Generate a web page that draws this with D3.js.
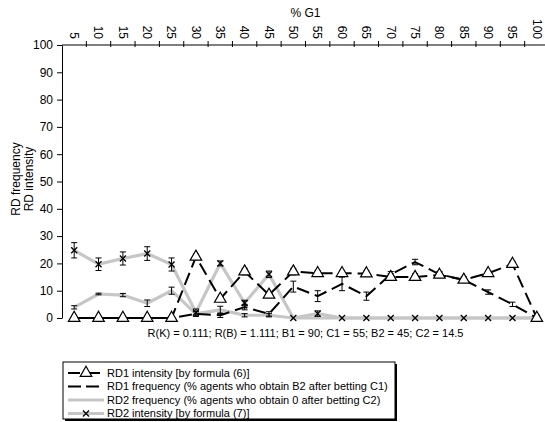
<!DOCTYPE html>
<html>
<head>
<meta charset="utf-8">
<script src="https://cdn.jsdelivr.net/npm/d3@7"></script>
<style>
  html, body { margin: 0; padding: 0; background: #fff; }
  svg { display: block; font-family: "Liberation Sans", Arial, Helvetica, sans-serif; }
</style>
</head>
<body>
<svg id="chart" width="545" height="422"></svg>
<script>
// Share of G1 agents (%)
const categories = [5, 10, 15, 20, 25, 30, 35, 40, 45, 50, 55, 60, 65, 70, 75, 80, 85, 90, 95, 100];
const yTicks = [0, 10, 20, 30, 40, 50, 60, 70, 80, 90, 100];

// RD1 intensity [by formula (6)] and its error half-widths
const rd1Intensity    = [0, 0, 0, 0, 0, 22.4, 7, 17, 8.5, 17, 16.4, 16.4, 16.3, 15, 15, 15.8, 14, 16.4, 19.8, 0];
const rd1IntensityErr = [0, 0, 0, 0, 0, 1, 0.8, 1.2, 1, 1.2, 1, 1, 1, 1.2, 1.2, 1, 1, 1, 1, 0];

// RD1 frequency (% agents who obtain B2 after betting C1)
const rd1Frequency    = [0, 0, 0, 0, 0, 1.5, 1, 4, 1.5, 11.5, 8, 12.5, 8, 16, 20.5, 16, 14, 9.5, 5, 0];
const rd1FrequencyErr = [0, 0, 0, 0, 0, 0.8, 0.8, 1, 0.8, 2, 2, 2.5, 1.5, 1, 1, 1, 1, 0.8, 0.8, 0];

// RD2 frequency (% agents who obtain 0 after betting C2)
const rd2Frequency    = [3.9, 8.8, 8.4, 5.4, 10, 1.5, 3, 1, 1, 0, 0, 0, 0, 0, 0, 0, 0, 0, 0, 0];
const rd2FrequencyErr = [0.6, 0.3, 0.6, 1.2, 1.3, 0.8, 1.3, 0.6, 0.6, 0, 0, 0, 0, 0, 0, 0, 0, 0, 0, 0];

// RD2 intensity [by formula (7)]
const rd2Intensity    = [24.8, 19.7, 21.8, 23.6, 19.6, 2, 20, 5.5, 16, 0, 1.6, 0, 0, 0, 0, 0, 0, 0, 0, 0];
const rd2IntensityErr = [2.8, 2.3, 2.4, 2.5, 2.4, 1.3, 0.9, 1, 1.2, 0, 1, 0, 0, 0, 0, 0, 0, 0, 0, 0];

const paramsText = "R(K) = 0.111; R(B) = 1.111; B1 = 90; C1 = 55; B2 = 45; C2 = 14.5";
const legendLabels = [
  "RD1 intensity [by formula (6)]",
  "RD1 frequency (% agents who obtain B2 after betting C1)",
  "RD2 frequency (% agents who obtain 0 after betting C2)",
  "RD2 intensity [by formula (7)]"
];

const svg = d3.select("#chart");
const plot = { left: 62, right: 549, top: 45, bottom: 318 };

const x = d3.scaleBand().domain(categories).range([plot.left, plot.right]).padding(0);
const cx = c => x(c) + x.bandwidth() / 2;
const y = d3.scaleLinear().domain([0, 100]).range([plot.bottom, plot.top]);

const GRAY = "#c6c6c6";
const DASH = "13,6";

// Left value axis
const yAxis = svg.append("g")
  .attr("transform", `translate(${plot.left},0)`)
  .call(d3.axisLeft(y).tickValues(yTicks).tickSize(5).tickSizeOuter(0).tickPadding(4));
yAxis.selectAll("text").attr("font-size", 12).attr("fill", "#000").attr("font-family", "Liberation Sans, Arial, sans-serif");
yAxis.selectAll("line, path").attr("stroke", "#000");

// Top category axis (sits on the 100 line)
const catAxis = svg.append("g");
catAxis.append("line")
  .attr("x1", plot.left).attr("x2", plot.right)
  .attr("y1", y(100)).attr("y2", y(100))
  .attr("stroke", "#000");
catAxis.selectAll("line.tick")
  .data(categories)
  .join("line")
  .attr("class", "tick")
  .attr("x1", c => x(c) + x.bandwidth()).attr("x2", c => x(c) + x.bandwidth())
  .attr("y1", y(100) - 4).attr("y2", y(100) + 2)
  .attr("stroke", "#000");
catAxis.selectAll("text.cat")
  .data(categories)
  .join("text")
  .attr("class", "cat")
  .attr("transform", c => `translate(${cx(c)},${y(100) - 6}) rotate(90)`)
  .attr("text-anchor", "end")
  .attr("dy", "0.35em")
  .attr("font-size", 12)
  .text(c => c);

svg.append("text")
  .attr("x", (plot.left + plot.right) / 2).attr("y", 17)
  .attr("text-anchor", "middle").attr("font-size", 12)
  .text("% G1");

// Rotated value-axis title, two lines
const yTitle = ["RD frequency", "RD intensity"];
svg.selectAll("text.ytitle")
  .data(yTitle)
  .join("text")
  .attr("class", "ytitle")
  .attr("transform", (d, i) => `translate(${20 + i * 13},${179}) rotate(-90)`)
  .attr("text-anchor", "middle")
  .attr("font-size", 12)
  .text(d => d);

// Series
const series = [
  { values: rd2Frequency, err: rd2FrequencyErr, stroke: GRAY, width: 3.2, dash: null, offset: 0, marker: null },
  { values: rd2Intensity, err: rd2IntensityErr, stroke: GRAY, width: 3.2, dash: null, offset: 0, marker: "x" },
  { values: rd1Frequency, err: rd1FrequencyErr, stroke: "#000", width: 2, dash: DASH, offset: 9, marker: null },
  { values: rd1Intensity, err: rd1IntensityErr, stroke: "#000", width: 2, dash: DASH, offset: 0, marker: "tri" }
];

const line = d3.line().x(d => cx(d.c)).y(d => y(d.v));
const triPath = d3.symbol().type(d3.symbolTriangle).size(58)();

series.forEach(s => {
  const pts = categories.map((c, i) => ({ c, v: s.values[i], e: s.err[i] }));
  const g = svg.append("g");
  g.append("path")
    .datum(pts)
    .attr("d", line)
    .attr("fill", "none")
    .attr("stroke", s.stroke)
    .attr("stroke-width", s.width)
    .attr("stroke-dasharray", s.dash)
    .attr("stroke-dashoffset", s.offset)
    .attr("stroke-linejoin", "round");

  // Error bars
  const eb = g.selectAll("g.eb").data(pts.filter(p => p.e > 0)).join("g").attr("class", "eb")
    .attr("stroke", "#000").attr("stroke-width", 1);
  eb.append("line")
    .attr("x1", p => cx(p.c)).attr("x2", p => cx(p.c))
    .attr("y1", p => y(p.v - p.e)).attr("y2", p => y(p.v + p.e));
  eb.append("line")
    .attr("x1", p => cx(p.c) - 3).attr("x2", p => cx(p.c) + 3)
    .attr("y1", p => y(p.v - p.e)).attr("y2", p => y(p.v - p.e));
  eb.append("line")
    .attr("x1", p => cx(p.c) - 3).attr("x2", p => cx(p.c) + 3)
    .attr("y1", p => y(p.v + p.e)).attr("y2", p => y(p.v + p.e));

  if (s.marker === "x") {
    g.selectAll("path.mx").data(pts).join("path").attr("class", "mx")
      .attr("transform", p => `translate(${cx(p.c)},${y(p.v)})`)
      .attr("d", "M-3,-3L3,3M-3,3L3,-3")
      .attr("stroke", "#000").attr("stroke-width", 1.3).attr("fill", "none");
  } else if (s.marker === "tri") {
    g.selectAll("path.mt").data(pts).join("path").attr("class", "mt")
      .attr("transform", p => `translate(${cx(p.c)},${y(p.v)})`)
      .attr("d", triPath)
      .attr("fill", "#fff").attr("stroke", "#000").attr("stroke-width", 1.2);
  }
});

// Parameter line under the plot
svg.append("text")
  .attr("x", (plot.left + plot.right) / 2).attr("y", 337)
  .attr("text-anchor", "middle").attr("font-size", 11)
  .text(paramsText);

// Legend
const lg = svg.append("g").attr("transform", "translate(63,362)");
lg.append("rect").attr("x", 2).attr("y", 2).attr("width", 332).attr("height", 57).attr("fill", "#000");
lg.append("rect").attr("x", 0).attr("y", 0).attr("width", 332).attr("height", 57)
  .attr("fill", "#fff").attr("stroke", "#000").attr("stroke-width", 1);

const legendStyles = [
  { stroke: "#000", width: 2, dash: "12,8", marker: "tri" },
  { stroke: "#000", width: 2, dash: "13,5", marker: null },
  { stroke: GRAY, width: 3.2, dash: null, marker: null },
  { stroke: GRAY, width: 3.2, dash: null, marker: "x" }
];
legendLabels.forEach((label, i) => {
  const st = legendStyles[i];
  const ry = 11 + i * 13.5;
  const row = lg.append("g").attr("transform", `translate(0,${ry})`);
  row.append("line").attr("x1", 5).attr("x2", 41).attr("y1", 0).attr("y2", 0)
    .attr("stroke", st.stroke).attr("stroke-width", st.width)
    .attr("stroke-dasharray", st.dash);
  if (st.marker === "tri") {
    row.append("path").attr("transform", "translate(23,0)").attr("d", triPath)
      .attr("fill", "#fff").attr("stroke", "#000").attr("stroke-width", 1.2);
  } else if (st.marker === "x") {
    row.append("path").attr("transform", "translate(23,0)").attr("d", "M-3,-3L3,3M-3,3L3,-3")
      .attr("stroke", "#000").attr("stroke-width", 1.3);
  }
  row.append("text").attr("x", 44).attr("y", 0).attr("dy", "0.35em")
    .attr("font-size", 11).text(label);
});
</script>
</body>
</html>
